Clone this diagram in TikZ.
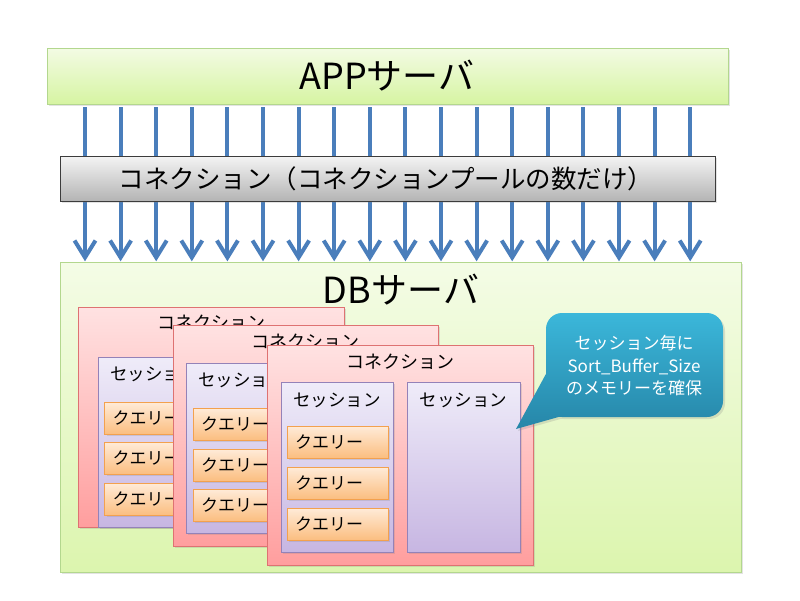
\documentclass[tikz,border=0pt]{standalone}
\usepackage{fontspec}
\newfontfamily\jp{Noto Sans CJK JP}
\usetikzlibrary{shadows}
\definecolor{grTop}{HTML}{F3FBE4}
\definecolor{grBot}{HTML}{D6F4A2}
\definecolor{grTop2}{HTML}{F4FCE6}
\definecolor{grBot2}{HTML}{DCF5AE}
\definecolor{grLine}{HTML}{B3D78E}
\definecolor{arrBlue}{HTML}{4A7EBB}
\definecolor{barTop}{HTML}{F4F4F4}
\definecolor{barBot}{HTML}{B4B4B4}
\definecolor{barLine}{HTML}{3C3C3C}
\definecolor{conTop}{HTML}{FFE2E2}
\definecolor{conBot}{HTML}{FF9E9E}
\definecolor{conLine}{HTML}{DE7272}
\definecolor{sesTop}{HTML}{EFECF9}
\definecolor{sesBot}{HTML}{C7B6E2}
\definecolor{sesLine}{HTML}{9482B8}
\definecolor{qTop}{HTML}{FFEBD8}
\definecolor{qBot}{HTML}{FBBE80}
\definecolor{qLine}{HTML}{F3A14E}
\definecolor{calTop}{HTML}{3BB7DA}
\definecolor{calBot}{HTML}{2686A8}
\tikzset{
  shadowed/.style={drop shadow={opacity=0.22,shadow xshift=2pt,shadow yshift=-2pt}},
  boxbase/.style={anchor=north west,inner sep=0pt,outer sep=0pt,line width=0.9pt,shadowed},
  greenbox/.style={boxbase,draw=grLine,top color=grTop,bottom color=grBot},
  greenbox2/.style={boxbase,draw=grLine,top color=grTop2,bottom color=grBot2},
  graybar/.style={boxbase,draw=barLine,top color=barTop,bottom color=barBot},
  conbox/.style={boxbase,draw=conLine,top color=conTop,bottom color=conBot,minimum width=266pt,minimum height=220pt},
  sesbox/.style={boxbase,draw=sesLine,top color=sesTop,bottom color=sesBot,minimum width=112pt,minimum height=170pt},
  qbox/.style={boxbase,draw=qLine,top color=qTop,bottom color=qBot,minimum width=101pt,minimum height=32pt},
  bigtxt/.style={font=\jp\fontsize{36}{36}\selectfont,inner sep=0pt},
  bartxt/.style={font=\jp\fontsize{25.5}{26}\selectfont,inner sep=0pt},
  contxt/.style={font=\jp\fontsize{18}{18}\selectfont,inner sep=0pt},
  sestxt/.style={font=\jp\fontsize{17.5}{18}\selectfont,inner sep=0pt},
  qtxt/.style={font=\jp\fontsize{17}{18}\selectfont,inner sep=0pt,anchor=west},
  arrshaft/.style={draw=arrBlue,line width=4pt},
  arrhead/.style={draw=arrBlue,line width=4pt,miter limit=10},
}
\begin{document}
\begin{tikzpicture}[x=1pt,y=-1pt]
\useasboundingbox (0,0) rectangle (800,600);
\fill[white] (0,0) rectangle (800,600);

% APP server
\node[greenbox,minimum width=681pt,minimum height=56pt] (app) at (47,48) {};
\node[bigtxt] (apptxt) at (387,76) {APPサーバ};

% arrows
\foreach \i in {0,...,17} {
  \pgfmathsetmacro\xx{85+35.6*\i}
  \coordinate (s\i) at (\xx,107);
  \coordinate (e\i) at (\xx,257.5);
  \draw[arrshaft] (s\i) -- (e\i);
  \draw[arrhead] (e\i) ++(-10.5,-17) -- (e\i) -- ++(10.5,-17);
}

% connection bar
\node[graybar,minimum width=655pt,minimum height=45pt] (bar) at (60,156) {};
\node[bartxt] (bartxt) at (386,178.5) {コネクション（コネクションプールの数だけ）};

% DB server
\node[greenbox2,minimum width=681pt,minimum height=310pt] (db) at (60,262) {};
\node[bigtxt] (dbtxt) at (401,290) {DBサーバ};

% connection 1
\node[conbox] (c1) at (78,307) {};
\node[contxt] (c1t) at (211,323) {コネクション};
\node[sesbox] (s1) at (98,357) {};
\node[sestxt] (s1t) at (154,374) {セッション};
\node[qbox] (q11) at (104.5,402) {};
\node[qbox] (q12) at (104.5,442) {};
\node[qbox] (q13) at (104.5,483) {};
\node[qtxt] at ([xshift=8pt]q11.west) {クエリー};
\node[qtxt] at ([xshift=8pt]q12.west) {クエリー};
\node[qtxt] at ([xshift=8pt]q13.west) {クエリー};

% connection 2
\node[conbox,minimum width=265pt,minimum height=221pt] (c2) at (173,325) {};
\node[contxt] (c2t) at (305.5,342) {コネクション};
\node[sesbox] (s2) at (186,363) {};
\node[sestxt] (s2t) at (242,380) {セッション};
\node[qbox] (q21) at (193,408) {};
\node[qbox] (q22) at (193,449) {};
\node[qbox] (q23) at (193,489) {};
\node[qtxt] at ([xshift=8pt]q21.west) {クエリー};
\node[qtxt] at ([xshift=8pt]q22.west) {クエリー};
\node[qtxt] at ([xshift=8pt]q23.west) {クエリー};

% connection 3
\node[conbox] (c3) at (267,345) {};
\node[contxt] (c3t) at (400,362) {コネクション};
\node[sesbox] (s3a) at (281,382) {};
\node[sestxt] (s3at) at (337,400) {セッション};
\node[sesbox,minimum width=113pt] (s3b) at (407,382) {};
\node[sestxt] (s3bt) at (463.5,400) {セッション};
\node[qbox] (q31) at (287,426) {};
\node[qbox] (q32) at (287,467) {};
\node[qbox] (q33) at (287,508) {};
\node[qtxt] at ([xshift=8pt]q31.west) {クエリー};
\node[qtxt] at ([xshift=8pt]q32.west) {クエリー};
\node[qtxt] at ([xshift=8pt]q33.west) {クエリー};

% callout
\path[top color=calTop,bottom color=calBot,shadowed]
  [rounded corners=16pt] (546,313) -- (723,313) -- (723,417) -- (546,417) -- cycle
  [sharp corners] (547,372) -- (562,416) -- (516,429) -- cycle;
\node[font=\jp\fontsize{17}{22.5}\selectfont,text=white,align=center,inner sep=0pt] (caltxt) at (634,366)
  {セッション毎に\\Sort\_Buffer\_Size\\のメモリーを確保};
\end{tikzpicture}
\end{document}
